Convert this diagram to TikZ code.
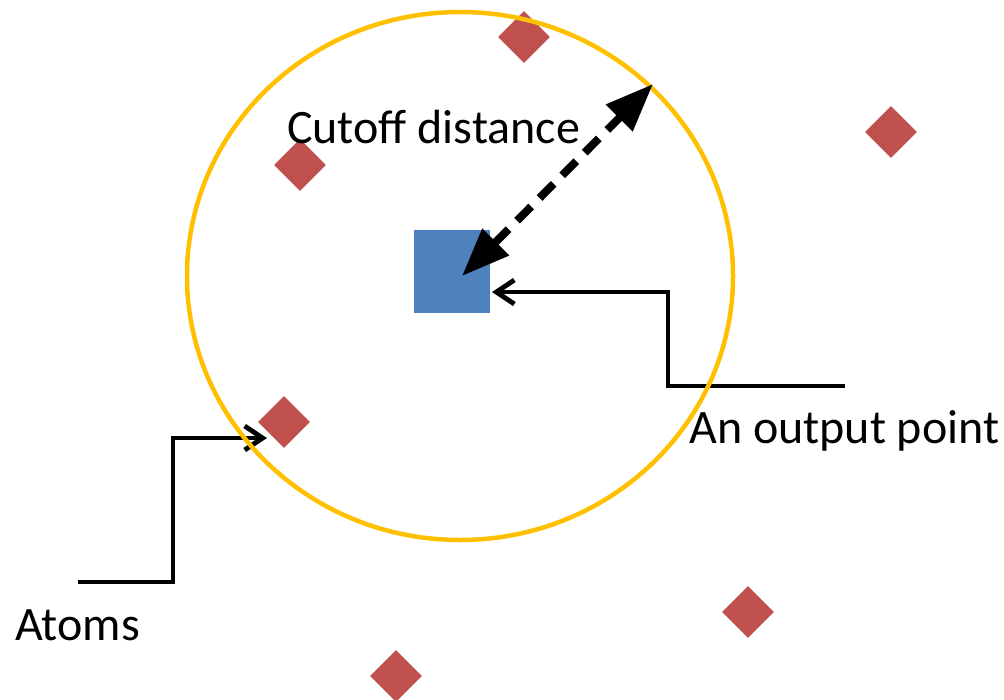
\documentclass[tikz,border=0pt]{standalone}
\usepackage{fontspec}
\setmainfont{Carlito}
\usetikzlibrary{shapes.geometric,arrows.meta}
\definecolor{ringc}{HTML}{FFC000}
\definecolor{atomc}{HTML}{C0504D}
\definecolor{pointc}{HTML}{4F81BD}
\begin{document}
\begin{tikzpicture}[x=1pt,y=-1pt,
  atom/.style={diamond,fill=atomc,inner sep=0pt,minimum width=52pt,minimum height=52pt,aspect=1},
  outpt/.style={rectangle,fill=pointc,inner sep=0pt,minimum width=76pt,minimum height=83pt},
  ring/.style={ellipse,draw=ringc,line width=4.5pt,minimum width=546pt,minimum height=528pt,inner sep=0pt},
  txt/.style={inner sep=0pt,anchor=base west,font=\fontsize{48}{57}\selectfont},
  conn/.style={line width=4.8pt,-{Straight Barb[length=18pt,width=24pt]}},
  cutarrow/.style={line width=8pt,dash pattern=on 20pt off 12pt,{Triangle[length=48pt,width=36pt]}-{Triangle[length=48pt,width=36pt]}}
]
\useasboundingbox (0,0) rectangle (1004,699);

% atoms
\node[atom] (a1) at (524,37) {};
\node[atom] (a2) at (891,132) {};
\node[atom] (a3) at (300,165) {};
\node[atom] (a4) at (284,422) {};
\node[atom] (a5) at (748,612) {};
\node[atom] (a6) at (396,676) {};

% output point
\node[outpt] (sq) at (452,271.5) {};

% labels
\node[txt] (tcut) at (287,143) {Cutoff distance};
\node[txt] (tout) at (689,443) {An output point};
\node[txt] (tatoms) at (15,640) {Atoms};

% connectors
\coordinate (opstart) at (845,386);
\coordinate (opbend) at (668,386);
\coordinate (optip) at (492,292);
\draw[conn] (opstart) -- (opbend) |- (optip);

\coordinate (atstart) at (78,582);
\coordinate (atbend) at (173,582);
\coordinate (attip) at (267,438);
\draw[conn] (atstart) -- (atbend) |- (attip);

% cutoff ring
\node[ring] (ring) at (460,276) {};

% cutoff distance arrow
\coordinate (rim) at (653,84);
\coordinate (ctr) at (462,276);
\draw[cutarrow] (ctr) -- (rim);
\end{tikzpicture}
\end{document}
